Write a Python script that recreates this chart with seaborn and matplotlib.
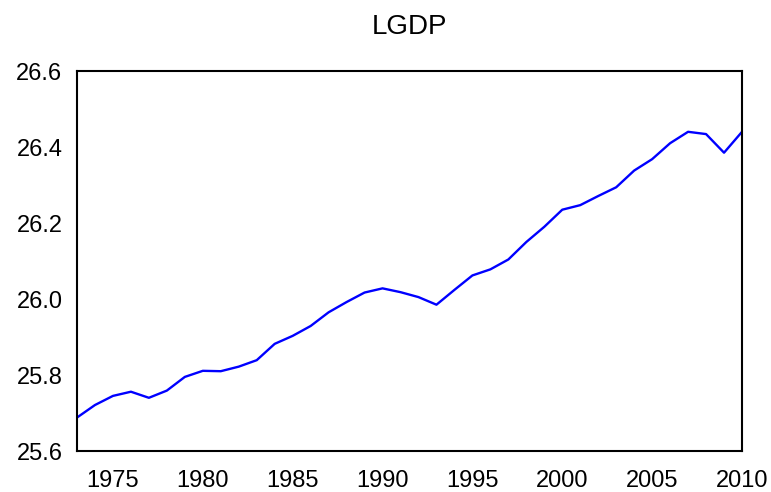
import numpy as np
import pandas as pd
import matplotlib
matplotlib.use("Agg")
import matplotlib.pyplot as plt
import seaborn as sns

# LGDP series, values
years = list(range(1973, 2011))
lgdp = [25.688, 25.721, 25.745, 25.756, 25.740, 25.759, 25.795, 25.811,
        25.810, 25.822, 25.839, 25.882, 25.903, 25.929, 25.965, 25.992,
        26.017, 26.028, 26.018, 26.005, 25.985, 26.024, 26.062, 26.078,
        26.104, 26.150, 26.190, 26.235, 26.247, 26.271, 26.294, 26.338,
        26.368, 26.410, 26.440, 26.434, 26.385, 26.440]

y_ticks = [25.6, 25.8, 26.0, 26.2, 26.4, 26.6]
x_ticks = [1975, 1980, 1985, 1990, 1995, 2000, 2005, 2010]

df = pd.DataFrame({"year": years, "LGDP": lgdp})

sns.set_style("white")
plt.rcParams["font.family"] = ["Liberation Sans", "DejaVu Sans"]

fig = plt.figure(figsize=(7.71, 4.92), dpi=100)
ax = fig.add_axes([77 / 771, 1 - 451 / 492, 665 / 771, 380 / 492])

sns.lineplot(data=df, x="year", y="LGDP", color="#0000ff", linewidth=1.7, ax=ax)

ax.set_xlim(1973, 2010)
ax.set_ylim(25.6, 26.6)
ax.set_xticks(x_ticks)
ax.set_yticks(y_ticks)
ax.set_yticklabels([f"{v:.1f}" for v in y_ticks])
ax.set_xlabel("")
ax.set_ylabel("")
ax.set_title("LGDP", fontsize=20, color="black", pad=27)

for s in ax.spines.values():
    s.set_color("black")
    s.set_linewidth(1.5)

ax.tick_params(axis="both", direction="out", length=6.5, width=1,
               color="#808080", labelsize=17, labelcolor="black", pad=4)
ax.tick_params(axis="x", pad=7)

fig.savefig("out.png", dpi=100)
